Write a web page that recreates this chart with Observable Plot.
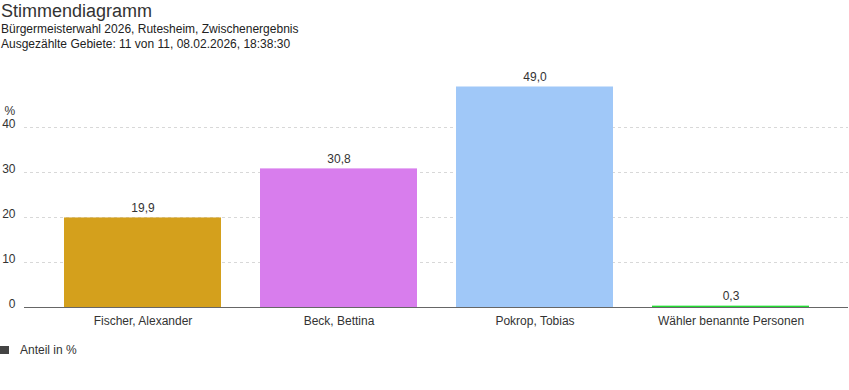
<!DOCTYPE html>
<html><head><meta charset="utf-8">
<script src="https://cdn.jsdelivr.net/npm/d3@7"></script>
<script src="https://cdn.jsdelivr.net/npm/@observablehq/plot@0.6"></script>
<style>
body{margin:0;font-family:"Liberation Sans",Arial,sans-serif;background:#fff;color:#333;}
#t{font-size:18px;line-height:22px;height:22px;padding-left:1px;color:#333;}
.s{font-size:12px;line-height:15px;padding-left:1px;color:#222;}
#leg{font-size:12px;height:16px;display:flex;align-items:center;color:#333;margin-top:0px;}
#leg span.sw{display:inline-block;width:9px;height:8px;background:#444;margin-right:11px;}
</style></head><body>
<div id="t">Stimmendiagramm</div>
<div class="s">Bürgermeisterwahl 2026, Rutesheim, Zwischenergebnis</div>
<div class="s">Ausgezählte Gebiete: 11 von 11, 08.02.2026, 18:38:30</div>
<div id="chart"></div>
<div id="leg"><span class="sw"></span>Anteil in %</div>
<script>
const candidates = ["Fischer, Alexander", "Beck, Bettina", "Pokrop, Tobias", "Wähler benannte Personen"];
const shares = [19.9, 30.8, 49.0, 0.3];
const colors = ["#d4a01c", "#d87ded", "#a0c8f8", "#22dd33"];
const yTicks = [0, 10, 20, 30, 40];

const data = candidates.map((c, i) => ({name: c, value: shares[i], color: colors[i]}));
const fmt = v => v.toFixed(1).replace(".", ",");

const chart = Plot.plot({
  width: 849,
  height: 290,
  marginLeft: 24,
  marginRight: 1,
  marginTop: 30,
  marginBottom: 35,
  style: {fontFamily: "'Liberation Sans', Arial, sans-serif", fontSize: "12px", color: "#333"},
  x: {domain: candidates, padding: 0.2, label: null, axis: null},
  y: {domain: [0, 50], label: null, axis: null},
  marks: [
    Plot.ruleY(yTicks.filter(d => d > 0), {stroke: "#d8d8d8", strokeDasharray: "3,3", strokeWidth: 1}),
    Plot.barY(data, {x: "name", y: "value", fill: "color"}),
    Plot.ruleY([0], {stroke: "#666", strokeWidth: 1}),
    Plot.text(data, {x: "name", y: "value", text: d => fmt(d.value), dy: -10, fill: "#333", fontSize: 12}),
    Plot.text(yTicks, {y: d => d, text: d => String(d), frameAnchor: "left", dx: -9, dy: -3, textAnchor: "end", fill: "#333", fontSize: 12}),
    Plot.text(["%"], {frameAnchor: "top-left", dx: -20, dy: 24, textAnchor: "start", fill: "#333", fontSize: 12}),
    Plot.axisX({tickSize: 0, tickPadding: 9, fill: "#333", fontSize: 12, label: null})
  ]
});
document.getElementById("chart").appendChild(chart);
</script>
</body></html>
